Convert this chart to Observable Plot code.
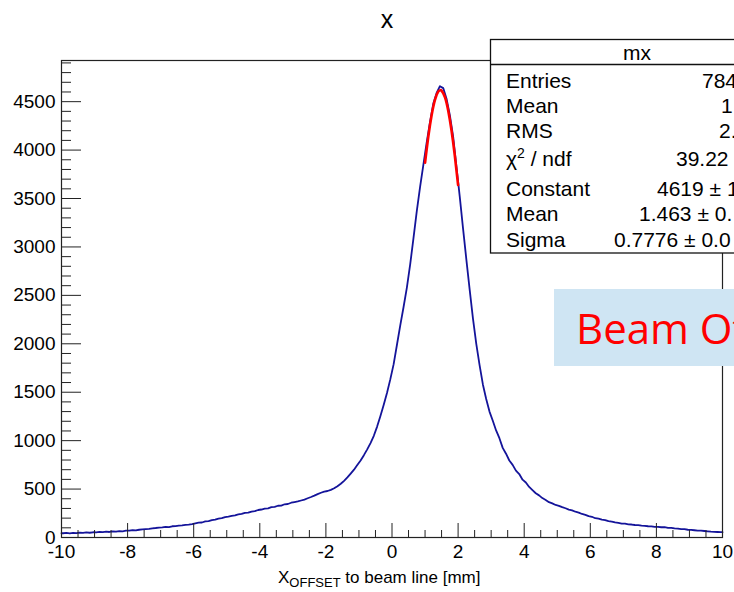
<!DOCTYPE html>
<html><head><meta charset="utf-8">
<script src="https://cdn.jsdelivr.net/npm/d3@7"></script>
<script src="https://cdn.jsdelivr.net/npm/@observablehq/plot@0.6"></script>
<style>html,body{margin:0;padding:0;overflow:hidden;background:#fff;}</style>
</head><body><div id="chart"></div>
<script>
// ---- data ----
const binStart = -10;
const binEnd = 10;
const binWidth = 0.1;
const counts = [
  44, 47, 43, 48, 46, 50, 47, 52, 49, 54,
  53, 58, 56, 60, 57, 63, 61, 66, 64, 70,
  71, 76, 73, 80, 83, 86, 89, 95, 98, 103,
  105, 110, 108, 116, 118, 123, 126, 131, 134, 139,
  146, 153, 155, 166, 170, 180, 184, 195, 199, 210,
  216, 224, 228, 238, 243, 254, 256, 268, 272, 284,
  289, 298, 301, 313, 316, 328, 330, 343, 346, 359,
  366, 372, 382, 392, 405, 418, 432, 448, 462, 474,
  480, 492, 508, 530, 555, 585, 620, 660, 700, 748,
  795, 850, 910, 975, 1050, 1145, 1255, 1370, 1495, 1635,
  1790, 1990, 2190, 2380, 2580, 2820, 3090, 3370, 3620, 3850,
  4080, 4290, 4480, 4590, 4660, 4640, 4530, 4360, 4140, 3830,
  3520, 3190, 2870, 2560, 2260, 2000, 1780, 1580, 1430, 1300,
  1205, 1105, 1025, 925, 865, 795, 750, 690, 655, 597,
  568, 522, 490, 457, 435, 407, 388, 365, 352, 336,
  327, 313, 302, 288, 280, 266, 257, 243, 234, 220,
  214, 199, 194, 184, 180, 169, 164, 156, 152, 144,
  143, 136, 134, 129, 128, 122, 121, 116, 115, 110,
  110, 106, 106, 100, 99, 94, 92, 87, 86, 80,
  78, 75, 72, 70, 67, 64, 61, 59, 57, 55
];
const fitX = [1.0, 1.1, 1.2, 1.3, 1.4, 1.463, 1.5, 1.6, 1.7, 1.8, 1.9, 2.0];
const fitY = [3869, 4142, 4362, 4519, 4604, 4619, 4614, 4548, 4409, 4205, 3944, 3639];
const xMajorTicks = [-10, -8, -6, -4, -2, 0, 2, 4, 6, 8, 10];
const yMajorTicks = [0, 500, 1000, 1500, 2000, 2500, 3000, 3500, 4000, 4500];
const plotTitle = "x";
const xTitleMain = "X";
const xTitleSub = "OFFSET";
const xTitleRest = " to beam line [mm]";
const statsName = "mx";
const statLabels = ["Entries", "Mean", "RMS", "χ2 / ndf", "Constant", "Mean", "Sigma"];
const statValues = ["784", "1.", "2.", "39.22", "4619 ± 1", "1.463 ± 0.", "0.7776 ± 0.0"];
const noteText = "Beam Offset";

// ---- derived tables ----
const hist = [{x: binStart, y: counts[0]}]
  .concat(counts.map((c, i) => ({x: binStart + (i + 0.5) * binWidth, y: c})))
  .concat([{x: binEnd, y: counts[counts.length - 1]}]);
const fit = fitX.map((x, i) => ({x, y: fitY[i]}));
const xMinorTicks = d3.range(-10, 10.001, 0.5).filter(v => Math.abs(v % 2) > 1e-9);
const yMinorTicks = d3.range(0, 4901, 100).filter(v => v % 500 !== 0);

const font = "'Liberation Sans', Arial, Helvetica, sans-serif";
const ink = "#222";

const chart = Plot.plot({
  width: 734,
  height: 592,
  marginLeft: 61,
  marginRight: 12,
  marginTop: 60,
  marginBottom: 55,
  style: {fontFamily: font, fontSize: "19px", color: "#000", background: "#fff"},
  x: {domain: [-10, 10]},
  y: {domain: [0, 4925]},
  marks: [
    Plot.line(hist, {x: "x", y: "y", curve: "linear", stroke: "#14149a", strokeWidth: 1.8}),
    Plot.line(fit, {x: "x", y: "y", curve: "natural", stroke: "#ff0000", strokeWidth: 2.6}),
    Plot.frame({stroke: ink, strokeWidth: 1.2}),
    Plot.axisX(xMajorTicks, {tickSize: 0, tickPadding: 7, tickFormat: d => String(d), label: null, fill: "#000", fontSize: 19}),
    Plot.axisX(xMajorTicks, {tickSize: -14, fill: "none", label: null, stroke: ink}),
    Plot.axisX(xMinorTicks, {tickSize: -7, fill: "none", label: null, stroke: ink}),
    Plot.axisY(yMajorTicks, {tickSize: 0, tickPadding: 6, tickFormat: d => String(d), label: null, fill: "#000", fontSize: 19}),
    Plot.axisY(yMajorTicks, {tickSize: -20, fill: "none", label: null, stroke: ink}),
    Plot.axisY(yMinorTicks, {tickSize: -10, fill: "none", label: null, stroke: ink})
  ]
});
document.getElementById("chart").appendChild(chart);

const svg = d3.select(chart);

// title
svg.append("text").attr("x", 387).attr("y", 28).attr("text-anchor", "middle")
  .attr("font-family", font).attr("font-size", 25).attr("fill", "#000").text(plotTitle);

// x axis title with subscript
const xt = svg.append("text").attr("x", 278).attr("y", 583).attr("text-anchor", "start")
  .attr("font-family", font).attr("font-size", 17).attr("fill", "#000");
xt.append("tspan").text(xTitleMain);
xt.append("tspan").attr("font-size", 13).attr("dy", 4).text(xTitleSub);
xt.append("tspan").attr("dy", -4).text(xTitleRest);

// stats box
const statFont = 21;
const sb = svg.append("g").attr("text-anchor", "start");
sb.append("rect").attr("x", 490.5).attr("y", 39.5).attr("width", 320).attr("height", 213.5)
  .attr("fill", "#fff").attr("stroke", "#111").attr("stroke-width", 1.3);
sb.append("line").attr("x1", 490.5).attr("x2", 810).attr("y1", 64.5).attr("y2", 64.5)
  .attr("stroke", "#111").attr("stroke-width", 1.3);
sb.append("text").attr("x", 637).attr("y", 60).attr("text-anchor", "middle")
  .attr("font-family", font).attr("font-size", statFont).attr("fill", "#000").text(statsName);
const rowBase = [88, 113, 138, 166, 196, 221, 247];
const valX = [702, 721, 719, 676, 657, 639, 614];
statLabels.forEach((lab, i) => {
  const t = sb.append("text").attr("x", 506).attr("y", rowBase[i]).attr("text-anchor", "start")
    .attr("font-family", font).attr("font-size", statFont).attr("fill", "#000");
  if (lab.startsWith("χ2")) {
    t.append("tspan").text("χ");
    t.append("tspan").attr("font-size", 14).attr("dy", -8).text("2");
    t.append("tspan").attr("dy", 8).text(lab.slice(2));
  } else {
    t.text(lab);
  }
  sb.append("text").attr("x", valX[i]).attr("y", rowBase[i]).attr("text-anchor", "start")
    .attr("font-family", font).attr("font-size", statFont).attr("fill", "#000")
    .style("white-space", "pre").text(statValues[i]);
});

// note box
const nb = svg.append("g").attr("text-anchor", "start");
nb.append("rect").attr("x", 554).attr("y", 289).attr("width", 220).attr("height", 77)
  .attr("fill", "#cfe5f3");
nb.append("text").attr("x", 576).attr("y", 344).attr("text-anchor", "start")
  .attr("font-family", "'Open Sans', 'Noto Sans', sans-serif").attr("font-size", 42)
  .attr("fill", "#ff0000").text(noteText);
</script>
</body></html>
